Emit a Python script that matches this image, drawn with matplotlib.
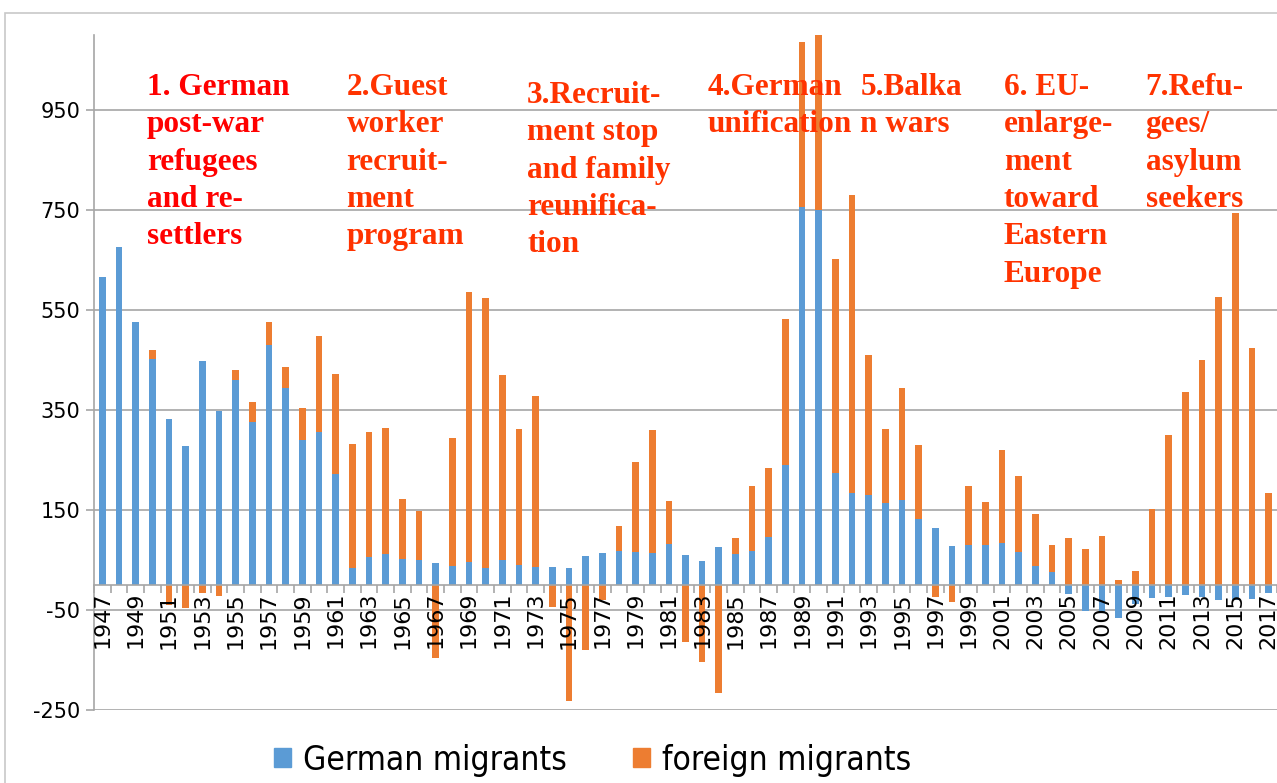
import matplotlib
matplotlib.use('Agg')
from matplotlib import pyplot as plt
from matplotlib.patches import Patch, Rectangle

years = list(range(1947, 2018))

german = [617, 677, 527, 452, 332, 278, 449, 349, 411, 327,
          480, 394, 290, 306, 222, 35, 57, 62, 53, 51,
          44, 38, 46, 35, 50, 40, 37, 37, 35, 58,
          64, 69, 67, 64, 83, 60, 48, 76, 62, 68,
          96, 241, 756, 750, 224, 185, 181, 164, 170, 133,
          114, 79, 81, 80, 85, 66, 39, 26, -17, -52,
          -56, -66, -37, -26, -23, -19, -24, -29, -29, -27,
          -16]

foreign = [0, 0, 0, 19, -39, -45, -16, -22, 20, 39,
           46, 42, 64, 193, 200, 248, 249, 253, 119, 97,
           -145, 257, 540, 540, 370, 272, 341, -43, -231, -129,
           -30, 49, 179, 246, 85, -113, -153, -215, 33, 131,
           139, 291, 330, 350, 428, 596, 279, 149, 225, 148,
           -23, -34, 118, 86, 186, 153, 103, 55, 94, 73,
           98, 11, 28, 153, 301, 386, 450, 576, 744, 474,
           185]

y_ticks = [-250, -50, 150, 350, 550, 750, 950]

period_labels = [
    "1. German\npost-war\nrefugees\nand re-\nsettlers",
    "2.Guest\nworker\nrecruit-\nment\nprogram",
    "3.Recruit-\nment stop\nand family\nreunifica-\ntion",
    "4.German\nunification",
    "5.Balka\nn wars",
    "6. EU-\nenlarge-\nment\ntoward\nEastern\nEurope",
    "7.Refu-\ngees/\nasylum\nseekers",
]
period_x = [1949.67, 1961.65, 1972.49, 1983.33, 1992.49, 2001.11, 2009.61]
period_y = [1024, 1024, 1008, 1024, 1024, 1024, 1024]
period_colors = ['#ff0000', '#ff3300', '#ff3300', '#ff3300', '#ff3300', '#ff3300', '#ff3300']

BLUE = '#5b9bd5'
ORANGE = '#ed7d31'
GRID = '#a6a6a6'


def main() -> None:
    fig = plt.figure(figsize=(12.77, 7.83), dpi=100)
    ax = fig.add_axes([94 / 1277, 73 / 783, 1 - 94 / 1277, 675 / 783])

    # stacked bars, positive and negative parts stack separately
    bottoms = [max(g, 0) if f >= 0 else min(g, 0) for g, f in zip(german, foreign)]
    ax.bar(years, german, width=0.4, color=BLUE, zorder=2)
    ax.bar(years, foreign, width=0.4, bottom=bottoms, color=ORANGE, zorder=2)

    for t in y_ticks:
        ax.axhline(t, color=GRID, lw=1.2, zorder=0.5)

    ax.set_xlim(1946.5, 1946.5 + (1277 - 94) / 16.7)
    ax.set_ylim(-250, 1100)

    ax.spines['top'].set_visible(False)
    ax.spines['right'].set_visible(False)
    ax.spines['bottom'].set_position(('data', 0))
    ax.spines['bottom'].set_color(GRID)
    ax.spines['left'].set_color(GRID)
    ax.spines['bottom'].set_linewidth(1.2)
    ax.spines['left'].set_linewidth(1.2)
    ax.set_axisbelow(False)

    ax.set_yticks(y_ticks)
    ax.set_yticklabels([str(t) for t in y_ticks], fontsize=15)
    ax.tick_params(axis='y', length=6, width=1.2, color=GRID, pad=4)

    odd_years = years[::2]
    ax.set_xticks(odd_years)
    ax.set_xticklabels([str(y) for y in odd_years], rotation=90, fontsize=16)
    ax.set_xticks([y - 0.5 for y in years] + [years[-1] + 0.5], minor=True)
    ax.tick_params(axis='x', which='major', length=0, pad=5)
    ax.tick_params(axis='x', which='minor', length=6, width=1.2, color=GRID)

    for label, x, y, c in zip(period_labels, period_x, period_y, period_colors):
        ax.text(x, y, label, ha='left', va='top', color=c, fontsize=22.5,
                fontweight='bold', family=['Liberation Serif', 'DejaVu Serif'],
                linespacing=1.38, zorder=6)

    handles = [Patch(color=BLUE, label='German migrants'),
               Patch(color=ORANGE, label='foreign migrants')]
    fig.legend(handles=handles, loc='center', bbox_to_anchor=(0.464, 0.029), ncol=2,
               frameon=False,
               prop={'family': 'DejaVu Sans', 'stretch': 'condensed', 'size': 24},
               handlelength=0.5, handleheight=0.5, handletextpad=0.35, columnspacing=2.0)

    fig.patches.append(Rectangle((5 / 1277, -0.1), 1.2, 1.1 - 13 / 783,
                                 transform=fig.transFigure, fill=False,
                                 edgecolor='#c8c8c8', lw=1.2))

    plt.savefig('out.png', dpi=100)


if __name__ == '__main__':
    main()
